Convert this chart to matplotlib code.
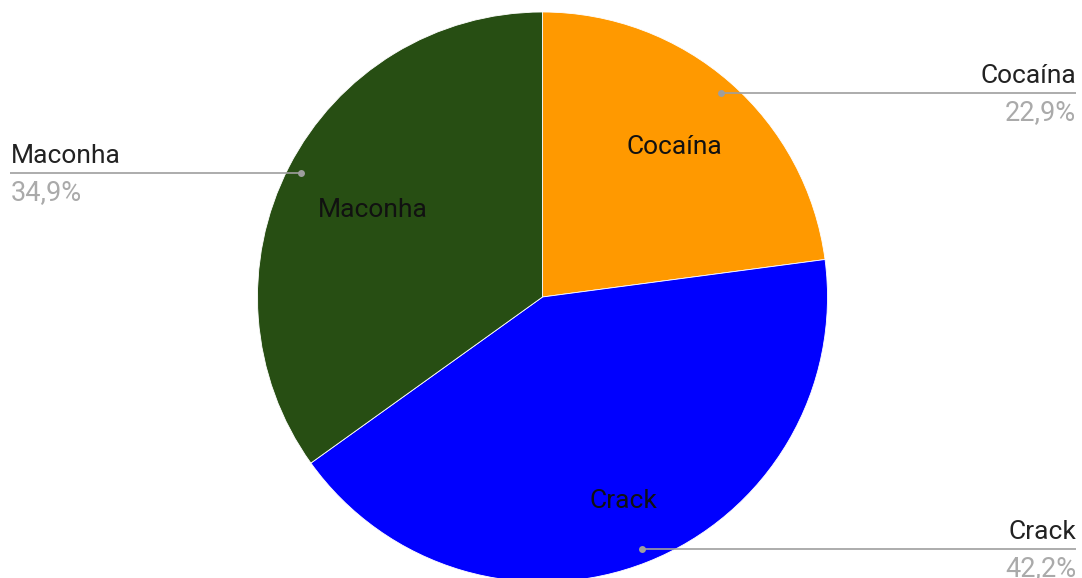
import numpy as np
import matplotlib
matplotlib.use("Agg")
import matplotlib.pyplot as plt

labels = ["Cocaína", "Crack", "Maconha"]
values = [22.9, 42.2, 34.9]
pct_text = ["22,9%", "42,2%", "34,9%"]
colors = ["#ff9900", "#0000ff", "#274e13"]

W, H = 1082, 578
plt.rcParams['font.family'] = ['Roboto', 'DejaVu Sans']
fig = plt.figure(figsize=(W / 100, H / 100), dpi=100)
ax = fig.add_axes([0, 0, 1, 1])

cx, cy, R = 542.5, H - 297, 285
wedges, _ = ax.pie(values, colors=colors, startangle=90, counterclock=False,
                   center=(cx, cy), radius=R, frame=True,
                   wedgeprops=dict(edgecolor="white", linewidth=0.6))
ax.set_xlim(0, W)
ax.set_ylim(0, H)
ax.set_aspect("equal")
ax.axis("off")

inner_frac = [0.70, 0.77, 0.67]
side = ["right", "right", "left"]
fs = 19
gray = "#9e9e9e"
pgray = "#aaaaaa"
for w, lab, pt, fr, sd in zip(wedges, labels, pct_text, inner_frac, side):
    mid = np.deg2rad((w.theta1 + w.theta2) / 2)
    ix, iy = cx + fr * R * np.cos(mid), cy + fr * R * np.sin(mid)
    ax.text(ix, iy, lab, ha="center", va="center", fontsize=fs, color="#111111")
    dx, dy = cx + 0.952 * R * np.cos(mid), cy + 0.952 * R * np.sin(mid)
    if sd == "right":
        xe = 1076
        ax.plot([dx, xe], [dy, dy], color=gray, lw=1.2, solid_capstyle="butt")
        ax.text(xe, dy + 5, lab, ha="right", va="bottom", fontsize=fs, color="#222222")
        ax.text(xe, dy - 6, pt, ha="right", va="top", fontsize=fs + 0.5, color=pgray)
    else:
        xe = 10
        ax.plot([xe, dx], [dy, dy], color=gray, lw=1.2, solid_capstyle="butt")
        ax.text(xe + 1, dy + 5, lab, ha="left", va="bottom", fontsize=fs, color="#222222")
        ax.text(xe + 1, dy - 6, pt, ha="left", va="top", fontsize=fs + 0.5, color=pgray)
    ax.plot([dx], [dy], "o", color=gray, ms=5, mec="none")

fig.savefig("out.png", dpi=100)
